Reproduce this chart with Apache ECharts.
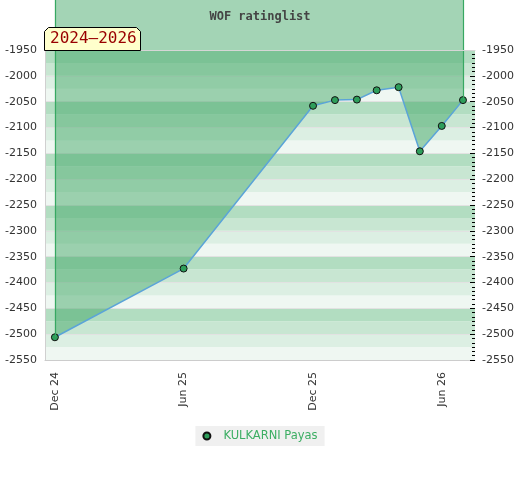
<!DOCTYPE html>
<html>
<head>
<meta charset="utf-8">
<script src="https://cdn.jsdelivr.net/npm/echarts@6/dist/echarts.min.js"></script>
<style>html,body{margin:0;padding:0;background:#fff}#c{width:520px;height:480px}</style>
</head>
<body>
<div id="c"></div>
<script>
// ---- data ----
const playerName = 'KULKARNI Payas';
const chartTitle = 'WOF ratinglist';
const periodLabel = '2024\u20132026';
const dates = ['2024-12-01','2025-06-01','2025-12-01','2026-01-01','2026-02-01','2026-03-01','2026-04-01','2026-05-01','2026-06-01','2026-07-01'];
const ratings = [-2506,-2373,-2058,-2047,-2046,-2028,-2022,-2146,-2097,-2047];
const tickDates = ['2024-12-01','2025-06-01','2025-12-01','2026-06-01'];
const tickLabels = ['Dec 24','Jun 25','Dec 25','Jun 26'];
const yMin = -2550, yMax = -1950, yStep = 50;
const xMinDate = '2024-11-17', xMaxDate = '2026-07-18';

function ts(s){ const p = s.split('-').map(Number); return Date.UTC(p[0], p[1]-1, p[2]); }

// ---- layout ----
const plotTop = 50, plotBottom = 120, plotLeft = 45, plotRight = 45;
const plotH = 480 - plotTop - plotBottom;
const yTop = yMax + plotTop * (yMax - yMin) / plotH; // extends scale up to the canvas top

const tickTs = tickDates.map(ts);
const seriesData = dates.map((d, i) => [ts(d), ratings[i]]);
const font = 'DejaVu Sans';

const chart = echarts.init(document.getElementById('c'), null, {renderer: 'canvas'});
chart.setOption({
  animation: false,
  backgroundColor: '#fff',
  title: {
    text: chartTitle, left: 'center', top: 6,
    textStyle: {fontFamily: 'DejaVu Sans Mono', fontWeight: 'bold', fontSize: 12, color: '#444'}
  },
  legend: {
    data: [playerName], top: 426, left: 'center',
    backgroundColor: '#f0f0f0', padding: [4, 7, 4, 7],
    icon: 'circle', itemWidth: 7, itemHeight: 7,
    textStyle: {fontFamily: font, fontSize: 11.5, color: '#3cae63', padding: [0, 0, 0, 8]}
  },
  grid: [
    {left: plotLeft, right: plotRight, top: plotTop, bottom: plotBottom},
    {left: plotLeft, right: plotRight, top: 0, bottom: plotBottom}
  ],
  xAxis: [
    {
      gridIndex: 0, type: 'value', min: ts(xMinDate), max: ts(xMaxDate), position: 'top', z: 5,
      axisLine: {show: true, lineStyle: {color: '#d6d6d6', width: 1}},
      axisTick: {show: false}, axisLabel: {show: false}, splitLine: {show: false}
    },
    {
      gridIndex: 1, type: 'value', min: ts(xMinDate), max: ts(xMaxDate), position: 'bottom',
      axisLine: {show: true, onZero: false, lineStyle: {color: '#cccccc', width: 1}},
      axisTick: {show: false}, splitLine: {show: false},
      axisLabel: {
        show: true, rotate: 90, margin: 12, customValues: tickTs,
        fontFamily: font, fontSize: 11, color: '#333',
        formatter: function (v) {
          let best = 0, bd = Infinity;
          tickTs.forEach((t, i) => { const d = Math.abs(t - v); if (d < bd) { bd = d; best = i; } });
          return tickLabels[best];
        }
      }
    }
  ],
  yAxis: [
    { // stripes
      gridIndex: 0, type: 'value', min: yMin, max: yMax, interval: yStep / 2,
      axisLine: {show: false}, axisTick: {show: false}, axisLabel: {show: false}, splitLine: {show: false},
      splitArea: {show: true, areaStyle: {color: ['#eff7f2', '#dcefe3', '#c8e6d2', '#b2ddc1']}}
    },
    { // left labels
      gridIndex: 0, type: 'value', min: yMin, max: yMax, interval: yStep, position: 'left',
      axisLine: {show: true, onZero: false, lineStyle: {color: '#d0d0d0'}}, axisTick: {show: false},
      splitLine: {show: true, lineStyle: {color: '#e2e2e2', width: 1}},
      axisLabel: {fontFamily: font, fontSize: 11, color: '#333', margin: 8, formatter: v => String(v)}
    },
    { // right labels + ticks
      gridIndex: 0, type: 'value', min: yMin, max: yMax, interval: yStep, position: 'right',
      axisLine: {show: false},
      axisTick: {show: true, inside: true, length: 5, lineStyle: {color: '#000'}},
      minorTick: {show: true, splitNumber: 6, length: 3, lineStyle: {color: '#000'}},
      splitLine: {show: false},
      axisLabel: {fontFamily: font, fontSize: 11, color: '#333', margin: 7, formatter: v => String(v)}
    },
    { // series scale (extends to canvas top)
      gridIndex: 1, type: 'value', min: yMin, max: yTop, show: false
    }
  ],
  series: [
    {
      name: playerName, type: 'line', xAxisIndex: 1, yAxisIndex: 3,
      data: seriesData,
      symbol: 'circle', symbolSize: 7, showSymbol: true,
      itemStyle: {color: '#2e9e5b', borderColor: '#111', borderWidth: 1},
      lineStyle: {color: '#5ba4d8', width: 1.5},
      areaStyle: {color: 'rgba(63,165,101,0.48)', origin: 'end', opacity: 1},
      markLine: {
        silent: true, symbol: 'none', label: {show: false},
        lineStyle: {color: '#37a862', width: 1.2, type: 'solid', opacity: 1},
        emphasis: {disabled: true},
        data: [
          [{coord: [seriesData[0][0], seriesData[0][1]]}, {coord: [seriesData[0][0], yTop]}],
          [{coord: [seriesData[seriesData.length-1][0], seriesData[seriesData.length-1][1]]},
           {coord: [seriesData[seriesData.length-1][0], yTop]}]
        ]
      },
      z: 3
    }
  ],
  graphic: [
    {
      type: 'polygon', z: 100,
      shape: {points: [[44.5, 50.5], [44.5, 31.5], [48.5, 27.5], [136.5, 27.5], [140.5, 31.5], [140.5, 50.5]]},
      style: {fill: '#ffffcc', stroke: '#000', lineWidth: 1}
    },
    {
      type: 'text', z: 101, left: 50, top: 31,
      style: {text: periodLabel, fill: '#990000', font: '16px "DejaVu Sans Mono"'}
    }
  ]
});
</script>
</body>
</html>
